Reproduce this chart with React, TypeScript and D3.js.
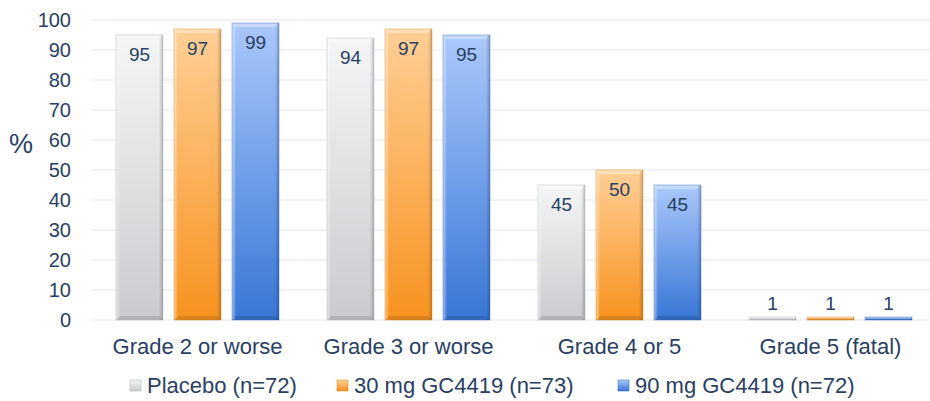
import React from "react";
import * as d3 from "d3";

const categories = ["Grade 2 or worse", "Grade 3 or worse", "Grade 4 or 5", "Grade 5 (fatal)"];
const seriesNames = ["Placebo (n=72)", "30 mg GC4419 (n=73)", "90 mg GC4419 (n=72)"];
const placebo = [95, 94, 45, 1];
const mg30 = [97, 97, 50, 1];
const mg90 = [99, 95, 45, 1];
const yTicks = [0, 10, 20, 30, 40, 50, 60, 70, 80, 90, 100];

const palettes = [
  { top: "#f4f5f6", bottom: "#c9cbce", edge: "#a9acb0" },
  { top: "#ffcf96", bottom: "#f7921e", edge: "#d7801a" },
  { top: "#aac8fb", bottom: "#3876d6", edge: "#2f63b5" },
];

const W = 930;
const H = 401;
const textColor = "#2a4063";
const font = "'Liberation Sans', Arial, sans-serif";

export default function App() {
  const series = [placebo, mg30, mg90];
  const x0 = d3.scaleBand<string>().domain(categories).range([92, 936]).paddingInner(0).paddingOuter(0);
  const x1 = d3.scaleBand<number>().domain([0, 1, 2]).range([24, x0.bandwidth() - 24]).paddingInner(0.19).paddingOuter(0);
  const y = d3.scaleLinear().domain([0, 100]).range([320, 20]);
  const bw = x1.bandwidth();
  const bev = 4;
  const legendX = [130, 337, 618];

  return (
    <svg width={W} height={H} style={{ position: "absolute", left: 0, top: 0, background: "#fff" }} fontFamily={font}>
      <defs>
        {palettes.map((p, i) => (
          <linearGradient key={i} id={`v${i}`} x1="0" y1="0" x2="0" y2="1">
            <stop offset="0" stopColor={p.top} />
            <stop offset="1" stopColor={p.bottom} />
          </linearGradient>
        ))}
        <linearGradient id="sideL" x1="0" y1="0" x2="1" y2="0">
          <stop offset="0" stopColor="#ffffff" stopOpacity="0.55" />
          <stop offset="1" stopColor="#ffffff" stopOpacity="0" />
        </linearGradient>
        <linearGradient id="sideR" x1="0" y1="0" x2="1" y2="0">
          <stop offset="0" stopColor="#000000" stopOpacity="0" />
          <stop offset="1" stopColor="#000000" stopOpacity="0.22" />
        </linearGradient>
      </defs>

      {yTicks.map((t) => (
        <g key={t}>
          <line x1={92} x2={W} y1={y(t)} y2={y(t)} stroke="#e3e7ee" strokeWidth={1.2} />
          <text x={71} y={y(t)} dy="0.35em" textAnchor="end" fontSize={20} fill={textColor}>
            {t}
          </text>
        </g>
      ))}
      <text x={21} y={144} dy="0.35em" textAnchor="middle" fontSize={27} fill={textColor}>
        %
      </text>

      {categories.map((c, ci) => (
        <g key={c} transform={`translate(${x0(c)},0)`}>
          {series.map((s, si) => {
            const v = s[ci];
            const bx = x1(si) as number;
            const by = y(v);
            const bh = y(0) - by;
            const p = palettes[si];
            const b = Math.min(bev, bh / 2);
            return (
              <g key={si}>
                <rect x={bx} y={by} width={bw} height={bh} fill={`url(#v${si})`} />
                <rect x={bx} y={by} width={b} height={bh} fill="url(#sideL)" />
                <rect x={bx + bw - b} y={by} width={b} height={bh} fill="url(#sideR)" />
                <polygon
                  points={`${bx},${by} ${bx + bw},${by} ${bx + bw - b},${by + b} ${bx + b},${by + b}`}
                  fill="#ffffff"
                  opacity={0.35}
                />
                <polygon
                  points={`${bx},${by + bh} ${bx + bw},${by + bh} ${bx + bw - b},${by + bh - b} ${bx + b},${by + bh - b}`}
                  fill="#000000"
                  opacity={0.12}
                />
                <rect x={bx} y={by} width={bw} height={bh} fill="none" stroke={p.edge} strokeWidth={0.6} strokeOpacity={0.7} />
                <text
                  x={bx + bw / 2}
                  y={v < 10 ? by - 14 : by + 19}
                  dy="0.35em"
                  textAnchor="middle"
                  fontSize={19}
                  fill={textColor}
                >
                  {v}
                </text>
              </g>
            );
          })}
          <text x={x0.bandwidth() / 2} y={346} dy="0.35em" textAnchor="middle" fontSize={22} fill={textColor}>
            {c}
          </text>
        </g>
      ))}

      {seriesNames.map((n, i) => (
        <g key={n} transform={`translate(${legendX[i]},385)`}>
          <rect x={0} y={-5} width={11} height={11} fill={`url(#v${i})`} stroke={palettes[i].edge} strokeWidth={0.5} />
          <text x={17} y={0} dy="0.35em" fontSize={22} fill={textColor}>
            {n}
          </text>
        </g>
      ))}
    </svg>
  );
}
